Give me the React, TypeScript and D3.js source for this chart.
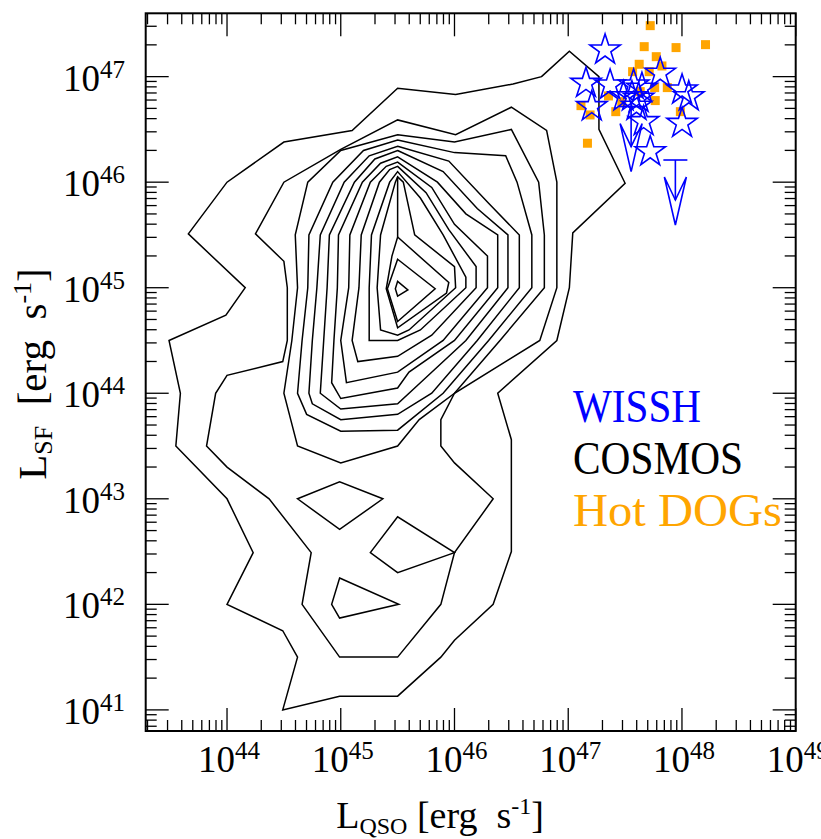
import React from "react";
import * as d3 from "d3";

// log10 L_QSO, log10 L_SF for the COSMOS contour lines
const cosmosContours: [number, number][][] = [
  [[46.765, 47.0], [47.01, 47.24], [47.27, 47.0], [47.27, 46.5], [47.5, 45.99], [47.04, 45.52], [47.01, 45.0], [46.9, 44.5], [46.38, 44.0], [46.5, 43.56], [46.5, 42.5], [46.34, 42.0], [46.0, 41.66], [45.88, 41.5], [45.5, 41.13], [44.99, 41.13], [44.49, 41.0], [44.62, 41.5], [44.49, 41.75], [44.0, 42.0], [44.23, 42.49], [44.0, 43.0], [43.55, 43.5], [43.59, 44.0], [43.49, 44.5], [43.99, 44.74], [44.16, 45.0], [43.66, 45.51], [44.0, 46.0], [44.5, 46.38], [45.1, 46.49], [45.5, 46.89], [46.01, 46.83], [46.515, 46.93]],
  [[46.5, 46.71], [46.81, 46.49], [46.9, 46.0], [46.9, 45.0], [46.75, 44.5], [46.0, 44.0], [45.88, 43.75], [45.88, 43.5], [46.0, 43.34], [46.34, 43.0], [46.0, 42.49], [45.88, 42.0], [45.5, 41.5], [44.99, 41.5], [44.66, 42.0], [44.74, 42.49], [44.37, 43.0], [44.0, 43.3], [43.82, 43.5], [43.9, 44.0], [44.0, 44.17], [44.49, 44.3], [44.53, 44.5], [44.53, 45.0], [44.5, 45.25], [44.25, 45.51], [44.5, 46.0], [45.0, 46.31], [45.5, 46.59], [46.01, 46.45]],
  [[45.5, 46.45], [46.0, 46.38], [46.5, 46.5], [46.74, 46.0], [46.79, 45.5], [46.79, 45.0], [46.4, 44.5], [46.0, 44.0], [45.69, 43.75], [45.5, 43.5], [45.0, 43.34], [44.62, 43.5], [44.56, 43.75], [44.5, 44.0], [44.57, 44.5], [44.62, 45.0], [44.6, 45.5], [44.71, 46.0], [45.0, 46.3]],
  [[45.5, 46.4], [46.0, 46.28], [46.45, 46.25], [46.55, 46.0], [46.68, 45.5], [46.68, 45.0], [46.3, 44.5], [45.9, 44.0], [45.5, 43.65], [45.0, 43.64], [44.7, 43.8], [44.62, 44.0], [44.66, 44.5], [44.71, 45.0], [44.72, 45.5], [44.93, 46.0], [45.2, 46.3]],
  [[45.5, 46.34], [45.95, 46.2], [46.3, 45.8], [46.57, 45.5], [46.57, 45.0], [46.2, 44.5], [45.8, 44.0], [45.5, 43.8], [45.0, 43.75], [44.75, 43.9], [44.72, 44.0], [44.75, 44.5], [44.79, 45.0], [44.82, 45.5], [45.03, 46.0], [45.25, 46.25]],
  [[45.5, 46.3], [45.9, 46.1], [46.2, 45.75], [46.47, 45.5], [46.47, 45.0], [46.1, 44.5], [45.7, 44.1], [45.5, 43.9], [45.0, 43.85], [44.82, 44.0], [44.85, 44.5], [44.88, 45.0], [44.9, 45.5], [45.12, 46.0], [45.3, 46.22]],
  [[45.5, 46.24], [45.85, 46.0], [46.1, 45.7], [46.38, 45.5], [46.38, 45.0], [46.0, 44.5], [45.6, 44.2], [45.5, 44.05], [45.0, 43.95], [44.92, 44.1], [44.94, 44.5], [44.97, 45.0], [44.98, 45.5], [45.19, 46.0], [45.35, 46.18]],
  [[45.5, 46.19], [45.8, 45.95], [46.0, 45.6], [46.29, 45.3], [46.29, 45.0], [45.9, 44.5], [45.5, 44.2], [45.05, 44.1], [45.0, 44.5], [45.07, 45.0], [45.08, 45.5], [45.26, 46.0], [45.4, 46.15]],
  [[45.5, 46.15], [45.75, 45.9], [45.95, 45.55], [46.19, 45.2], [46.19, 45.0], [45.8, 44.55], [45.5, 44.35], [45.15, 44.3], [45.1, 44.5], [45.16, 45.0], [45.18, 45.5], [45.34, 46.0], [45.43, 46.12]],
  [[45.5, 46.1], [45.7, 45.85], [45.9, 45.5], [46.1, 45.1], [46.1, 45.0], [45.7, 44.6], [45.5, 44.5], [45.25, 44.5], [45.25, 45.0], [45.27, 45.5], [45.43, 46.0]],
  [[45.5, 46.05], [45.55, 46.0], [45.65, 45.5], [46.0, 45.2], [46.01, 45.0], [45.6, 44.6], [45.5, 44.55], [45.35, 44.6], [45.32, 45.0], [45.35, 45.5], [45.48, 46.0]],
  [[45.5, 45.48], [45.95, 45.05], [45.93, 44.95], [45.5, 44.62], [45.4, 44.99], [45.45, 45.3]],
  [[45.5, 45.27], [45.83, 44.99], [45.5, 44.68], [45.41, 44.99]],
  [[45.5, 45.06], [45.59, 44.98], [45.5, 44.92], [45.48, 44.99]],
  // isolated islands below the main cloud
  [[44.62, 43.0], [44.99, 43.16], [45.37, 43.0], [44.99, 42.71]],
  [[45.26, 42.49], [45.5, 42.83], [46.0, 42.49], [45.5, 42.3]],
  [[44.99, 42.25], [45.51, 42.0], [44.99, 41.87], [44.92, 42.0]],
];
// open segment of the contour ridge at log L_QSO = 45.5
const cosmosRidge: [number, number][] = [[45.5, 46.05], [45.5, 45.48]];

// WISSH quasars: log L_QSO, log L_SF
const wisshPoints: [number, number][] = [
  [47.324, 47.253], [47.156, 46.937], [47.368, 46.921], [47.207, 46.716],
  [47.575, 46.921], [47.648, 46.89], [47.809, 47.032], [48.001, 46.874],
  [48.06, 46.81], [47.56, 46.81], [47.619, 46.795], [47.486, 46.81],
  [47.663, 46.574], [48.001, 46.558], [47.721, 46.289], [47.6, 46.72],
];
// WISSH upper limits (start of the arrow)
const wisshLimits: [number, number][] = [
  [47.553, 46.716], [47.942, 46.21],
];

// Hot DOGs: log L_QSO, log L_SF
const hotDogs: [number, number][] = [
  [47.721, 47.483], [47.668, 47.284], [47.948, 47.275], [48.207, 47.303],
  [47.774, 47.189], [47.624, 47.117], [47.824, 47.101], [47.566, 47.047],
  [47.712, 47.047], [47.354, 46.817], [47.112, 46.725], [47.418, 46.668],
  [47.765, 46.773], [47.871, 46.896], [47.76, 46.896], [47.633, 46.858],
  [47.986, 46.668], [47.169, 46.369], [47.192, 46.637], [47.471, 46.763],
];

const legendLabels = ["WISSH", "COSMOS", "Hot DOGs"];
const legendColors = ["#0000ff", "#000000", "#ffa500"];
const legendWidths = [128, 170, 209];

const xDomain = [43.285, 49.0];
const yDomain = [40.8, 47.6];

const W = 821;
const H = 839;
const left = 145.7, right = 795.7, top = 13.3, bottom = 731;
const FONT = "Liberation Serif, DejaVu Serif, serif";

export default function App() {
  const xScale = d3.scaleLog().domain([10 ** xDomain[0], 10 ** xDomain[1]]).range([left, right]);
  const yScale = d3.scaleLog().domain([10 ** yDomain[0], 10 ** yDomain[1]]).range([bottom, top]);
  const px = (v: number) => xScale(10 ** v);
  const py = (v: number) => yScale(10 ** v);

  const line = d3.line<[number, number]>().x(d => px(d[0])).y(d => py(d[1])).curve(d3.curveLinearClosed);
  const openLine = d3.line<[number, number]>().x(d => px(d[0])).y(d => py(d[1]));
  const star = d3.symbol(d3.symbolStar, 287)();

  const isMajor = (t: number) => Math.abs(Math.log10(t) - Math.round(Math.log10(t))) < 1e-6;
  const xTicks = xScale.ticks().filter(t => t >= 10 ** xDomain[0] * 0.999 && t <= 10 ** xDomain[1] * 1.001);
  const yTicks = yScale.ticks().filter(t => t >= 10 ** yDomain[0] * 0.999 && t <= 10 ** yDomain[1] * 1.001);
  const majLen = 23, minLen = 11;

  return (
    <svg width={W} height={H} style={{ position: "absolute", left: 0, top: 0, background: "#fff" }} fontFamily={FONT}>
      <rect x={0} y={0} width={W} height={H} fill="#fff" />
      {/* contours */}
      <g fill="none" stroke="#000" strokeWidth={1.5} strokeLinejoin="miter">
        {cosmosContours.map((c, i) => <path key={i} d={line(c) ?? ""} />)}
        <path d={openLine(cosmosRidge) ?? ""} />
      </g>

      {/* Hot DOGs */}
      <g fill="#ffa500">
        {hotDogs.map((d, i) => <rect key={i} x={px(d[0]) - 4.5} y={py(d[1]) - 4.5} width={9} height={9} />)}
      </g>

      {/* WISSH */}
      <g fill="none" stroke="#0000ff" strokeWidth={1.6}>
        {wisshPoints.map((d, i) => (
          <path key={i} d={star ?? ""} transform={`translate(${px(d[0])},${py(d[1])})`} />
        ))}
        {wisshLimits.map((d, i) => {
          const x0 = px(d[0]);
          const y0 = py(d[1]);
          const tip = y0 + 65;
          return (
            <g key={i}>
              <line x1={x0 - 12} x2={x0 + 12} y1={y0} y2={y0} />
              <line x1={x0} x2={x0} y1={y0} y2={tip - 25} />
              <path d={`M${x0 - 11},${tip - 48} L${x0},${tip - 25} L${x0 + 11},${tip - 48} L${x0},${tip} Z`} />
            </g>
          );
        })}
      </g>

      {/* frame and ticks */}
      <g stroke="#000" strokeWidth={1.3}>
        {xTicks.map((t, i) => {
          const x = xScale(t);
          const l = isMajor(t) ? majLen : minLen;
          return (
            <g key={i}>
              <line x1={x} x2={x} y1={bottom} y2={bottom - l} />
              <line x1={x} x2={x} y1={top} y2={top + l} />
            </g>
          );
        })}
        {yTicks.map((t, i) => {
          const y = yScale(t);
          const l = isMajor(t) ? majLen : minLen;
          return (
            <g key={i}>
              <line x1={left} x2={left + l} y1={y} y2={y} />
              <line x1={right} x2={right - l} y1={y} y2={y} />
            </g>
          );
        })}
      </g>
      <rect x={left} y={top} width={right - left} height={bottom - top} fill="none" stroke="#000" strokeWidth={2} />

      {/* tick labels */}
      <g fontSize={37} fill="#000" fontFamily={FONT}>
        {xTicks.filter(isMajor).map((t, i) => (
          <text key={i} x={xScale(t) + 2} y={772} textAnchor="middle">
            10<tspan fontSize={25} dy={-13}>{Math.round(Math.log10(t))}</tspan>
          </text>
        ))}
        {yTicks.filter(isMajor).map((t, i) => (
          <text key={i} x={125} y={yScale(t) + 14} textAnchor="end">
            10<tspan fontSize={25} dy={-13}>{Math.round(Math.log10(t))}</tspan>
          </text>
        ))}
      </g>

      {/* axis titles */}
      <text x={440} y={828} textAnchor="middle" fontSize={38} fontFamily={FONT} style={{ whiteSpace: "pre" }}>
        L<tspan fontSize={24} dy={6}>QSO</tspan><tspan dy={-6}> [erg  s</tspan><tspan fontSize={24} dy={-14}>-1</tspan><tspan dy={14}>]</tspan>
      </text>
      <text transform="translate(46,374) rotate(-90)" textAnchor="middle" fontSize={41} fontFamily={FONT} style={{ whiteSpace: "pre" }}>
        L<tspan fontSize={26} dy={6}>SF</tspan><tspan dy={-6}>  [erg  s</tspan><tspan fontSize={26} dy={-15}>-1</tspan><tspan dy={15}>]</tspan>
      </text>

      {/* legend */}
      {legendLabels.map((l, i) => (
        <text key={l} x={573} y={421.7 + i * 52.2} fontSize={46} fill={legendColors[i]} fontFamily={FONT}
          textLength={legendWidths[i]} lengthAdjust="spacingAndGlyphs" style={{ whiteSpace: "pre" }}>
          {l}
        </text>
      ))}
    </svg>
  );
}
